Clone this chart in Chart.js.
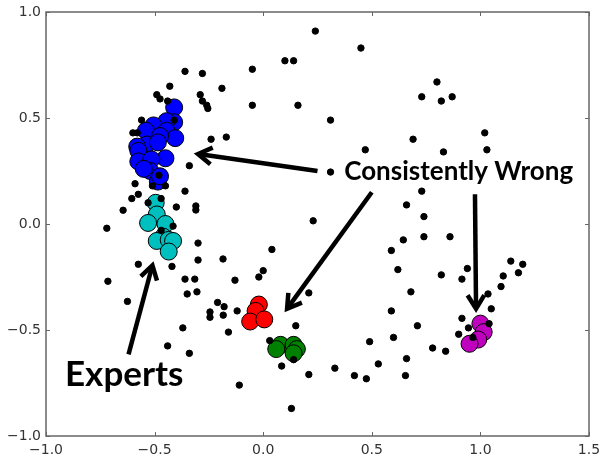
<!DOCTYPE html>
<html>
<head>
<meta charset="utf-8">
<script src="https://cdn.jsdelivr.net/npm/chart.js@4/dist/chart.umd.min.js"></script>
<style>
  html, body { margin: 0; padding: 0; background: #fff; }
  #wrap { width: 600px; height: 460px; }
</style>
</head>
<body>
<div id="wrap"><canvas id="chart" width="600" height="460"></canvas></div>
<script>
// ---------- DATI ----------
const xTicks = [-1.0, -0.5, 0.0, 0.5, 1.0, 1.5];
const yTicks = [-1.0, -0.5, 0.0, 0.5, 1.0];

// punti neri (tutti gli altri)
const others = [
  [0.24,0.91],[0.45,0.83],[0.10,0.77],[0.14,0.77],[-0.36,0.72],[-0.28,0.71],[-0.05,0.73],
  [-0.43,0.65],[-0.49,0.61],[-0.475,0.59],[-0.44,0.58],[-0.19,0.64],[-0.29,0.61],[-0.28,0.58],
  [-0.26,0.56],[-0.255,0.545],[-0.05,0.56],[0.16,0.56],[0.31,0.49],[-0.24,0.40],[-0.17,0.41],
  [0.47,0.35],[0.80,0.67],[0.73,0.60],[0.82,0.58],[0.87,0.60],[0.69,0.40],[1.02,0.43],
  [0.83,0.34],[1.03,0.35],[-0.56,0.49],[-0.60,0.43],[-0.58,0.43],[-0.41,0.49],[-0.34,0.275],
  [-0.48,0.23],[-0.59,0.19],[-0.51,0.18],[-0.45,0.18],[-0.36,0.155],[-0.575,0.14],[-0.605,0.12],
  [-0.47,0.12],[-0.53,0.10],[-0.645,0.065],[-0.40,0.08],[-0.31,0.085],[-0.31,0.066],[-0.72,-0.02],
  [-0.47,-0.03],[-0.415,-0.01],[-0.30,-0.09],[-0.30,-0.17],[-0.575,-0.19],[-0.42,-0.20],
  [-0.715,-0.27],[-0.36,-0.26],[-0.315,-0.26],[-0.35,-0.33],[-0.305,-0.32],[-0.625,-0.365],
  [0.31,0.245],[0.23,0.015],[0.04,-0.12],[-0.185,-0.165],[0.59,-0.125],[0.0,-0.22],[-0.02,-0.25],
  [-0.13,-0.265],[0.21,-0.325],[-0.21,-0.37],[-0.18,-0.39],[-0.12,-0.41],[-0.245,-0.415],
  [-0.245,-0.44],[-0.184,-0.43],[-0.37,-0.49],[-0.16,-0.51],[0.15,-0.48],[0.03,-0.55],
  [-0.34,-0.61],[-0.44,-0.575],[0.085,-0.67],[0.14,-0.64],[-0.11,-0.76],[0.21,-0.71],
  [0.33,-0.68],[0.42,-0.715],[0.475,-0.73],[0.13,-0.87],[0.59,-0.41],[0.49,-0.555],[0.53,-0.66],
  [0.60,-0.535],[0.73,0.155],[0.66,0.09],[0.74,0.035],[0.645,-0.075],[0.74,-0.06],[0.86,-0.06],
  [0.62,-0.215],[0.82,-0.24],[0.94,-0.21],[0.915,-0.26],[1.14,-0.175],[1.195,-0.19],[1.105,-0.245],
  [1.175,-0.23],[1.095,-0.295],[0.68,-0.32],[1.035,-0.33],[1.05,-0.40],[0.71,-0.48],[0.78,-0.585],
  [0.84,-0.60],[0.66,-0.635],[0.655,-0.715],[0.915,-0.445],[0.945,-0.49],[0.90,-0.52],
  [1.04,-0.47],[0.965,-0.535]
];

// gruppi colorati
const blueGroup = [
  [-0.41,0.55],[-0.41,0.48],[-0.445,0.485],[-0.505,0.465],[-0.54,0.44],[-0.445,0.44],
  [-0.405,0.405],[-0.475,0.415],[-0.535,0.375],[-0.485,0.385],[-0.58,0.365],[-0.575,0.345],
  [-0.45,0.31],[-0.575,0.295],[-0.515,0.305],[-0.52,0.25],[-0.55,0.26],[-0.485,0.20],[-0.475,0.225]
];
const cyanGroup = [
  [-0.495,0.10],[-0.49,0.045],[-0.53,0.005],[-0.45,0.0],[-0.46,-0.06],[-0.49,-0.08],
  [-0.435,-0.075],[-0.415,-0.08],[-0.435,-0.13]
];
const redGroup = [[-0.02,-0.38],[-0.035,-0.41],[-0.06,-0.46],[0.005,-0.45]];
const greenGroup = [[0.08,-0.57],[0.14,-0.57],[0.06,-0.59],[0.155,-0.59],[0.14,-0.61]];
const magentaGroup = [[1.0,-0.47],[1.015,-0.51],[0.99,-0.545],[0.95,-0.565]];

// frecce: [coda, punta] in coordinate dati
const arrows = [
  [[0.25,0.25],[-0.30,0.33]],
  [[0.50,0.15],[0.11,-0.40]],
  [[0.975,0.14],[0.98,-0.40]],
  [[-0.62,-0.615],[-0.51,-0.195]]
];
const labels = [
  { text: 'Consistently Wrong', at: [0.90,0.245], size: 26 },
  { text: 'Experts', at: [-0.64,-0.71], size: 35 }
];

const toPts = arr => arr.map(p => ({ x: p[0], y: p[1] }));
const fmt = v => (v < 0 ? '\u2212' : '') + Math.abs(v).toFixed(1);

// ---------- PLUGIN: cornice, tacche, frecce, testi ----------
const frame = {
  id: 'frame',
  afterDraw(chart) {
    const { ctx, chartArea: a, scales: { x, y } } = chart;
    ctx.save();
    ctx.strokeStyle = '#666';
    ctx.lineWidth = 1.5;
    ctx.strokeRect(a.left, a.top, a.right - a.left, a.bottom - a.top);
    ctx.lineWidth = 1;
    ctx.beginPath();
    xTicks.forEach(t => {
      const px = Math.round(x.getPixelForValue(t)) + 0.5;
      ctx.moveTo(px, a.bottom); ctx.lineTo(px, a.bottom - 4);
      ctx.moveTo(px, a.top); ctx.lineTo(px, a.top + 4);
    });
    yTicks.forEach(t => {
      const py = Math.round(y.getPixelForValue(t)) + 0.5;
      ctx.moveTo(a.left, py); ctx.lineTo(a.left + 4, py);
      ctx.moveTo(a.right, py); ctx.lineTo(a.right - 4, py);
    });
    ctx.stroke();

    // frecce
    ctx.strokeStyle = '#000';
    ctx.lineWidth = 4.5;
    ctx.lineJoin = 'miter';
    arrows.forEach(([from, to]) => {
      const x0 = x.getPixelForValue(from[0]), y0 = y.getPixelForValue(from[1]);
      const x1 = x.getPixelForValue(to[0]), y1 = y.getPixelForValue(to[1]);
      const ang = Math.atan2(y1 - y0, x1 - x0);
      const len = 16, spread = 0.55;
      ctx.beginPath();
      ctx.moveTo(x0, y0);
      ctx.lineTo(x1 - Math.cos(ang) * 2, y1 - Math.sin(ang) * 2);
      ctx.stroke();
      ctx.beginPath();
      ctx.moveTo(x1 - Math.cos(ang - spread) * len, y1 - Math.sin(ang - spread) * len);
      ctx.lineTo(x1, y1);
      ctx.lineTo(x1 - Math.cos(ang + spread) * len, y1 - Math.sin(ang + spread) * len);
      ctx.stroke();
    });

    // testi
    ctx.fillStyle = '#000';
    ctx.textAlign = 'center';
    ctx.textBaseline = 'middle';
    labels.forEach(l => {
      ctx.font = 'bold ' + l.size + 'px Lato, "Open Sans", sans-serif';
      ctx.fillText(l.text, x.getPixelForValue(l.at[0]), y.getPixelForValue(l.at[1]));
    });
    ctx.restore();
  }
};

const dotStyle = (color, r) => ({
  backgroundColor: color,
  borderColor: '#000',
  borderWidth: 1,
  pointRadius: r,
  pointHoverRadius: r
});

new Chart(document.getElementById('chart'), {
  type: 'scatter',
  data: {
    datasets: [
      Object.assign({ data: toPts(others), order: 0 }, dotStyle('#000', 3.2)),
      Object.assign({ data: toPts(blueGroup), order: 1 }, dotStyle('#0000ff', 8.5)),
      Object.assign({ data: toPts(cyanGroup), order: 1 }, dotStyle('#00bfbf', 8.5)),
      Object.assign({ data: toPts(redGroup), order: 1 }, dotStyle('#ff0000', 8.5)),
      Object.assign({ data: toPts(greenGroup), order: 1 }, dotStyle('#008000', 8.5)),
      Object.assign({ data: toPts(magentaGroup), order: 1 }, dotStyle('#bf00bf', 8.5))
    ]
  },
  options: {
    responsive: false,
    animation: false,
    events: [],
    layout: { padding: { top: 12, right: 11, left: 0, bottom: 0 } },
    plugins: { legend: { display: false }, tooltip: { enabled: false } },
    scales: {
      x: {
        type: 'linear', min: -1.0, max: 1.5,
        grid: { display: false, drawTicks: false },
        border: { display: false },
        afterBuildTicks: s => { s.ticks = xTicks.map(v => ({ value: v })); },
        afterFit: s => { s.height = 24; s.paddingRight = 0; s.paddingLeft = 0; },
        ticks: {
          padding: 6, color: '#333', maxRotation: 0,
          font: { family: 'DejaVu Sans', size: 14 },
          callback: v => fmt(v)
        }
      },
      y: {
        type: 'linear', min: -1.0, max: 1.0,
        grid: { display: false, drawTicks: false },
        border: { display: false },
        afterBuildTicks: s => { s.ticks = yTicks.map(v => ({ value: v })); },
        afterFit: s => { s.width = 46; s.paddingTop = 0; s.paddingBottom = 0; },
        ticks: {
          padding: 5, color: '#333',
          font: { family: 'DejaVu Sans', size: 14 },
          callback: v => fmt(v)
        }
      }
    }
  },
  plugins: [frame]
});
</script>
</body>
</html>
